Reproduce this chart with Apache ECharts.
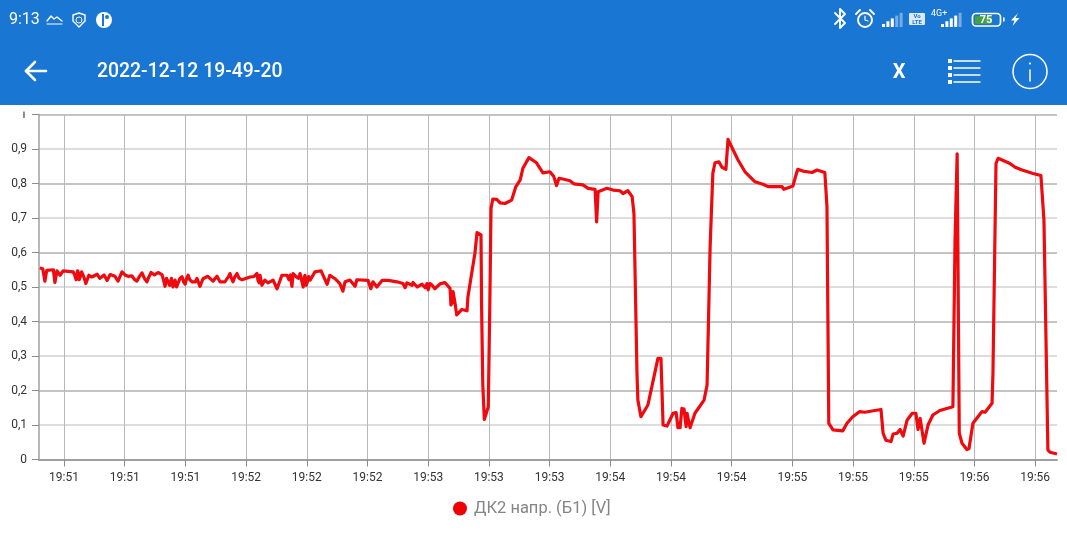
<!DOCTYPE html>
<html>
<head>
<meta charset="utf-8">
<title>2022-12-12 19-49-20</title>
<script src="https://cdn.jsdelivr.net/npm/echarts@6/dist/echarts.min.js"></script>
<style>
    html, body { margin: 0; padding: 0; background: #fff; }
    #chart { width: 1067px; height: 540px; }
</style>
</head>
<body>
<div id="chart"></div>
<script>
var title = '2022-12-12 19-49-20';
var seriesName = 'ДК2 напр. (Б1) [V]';

// seconds after 19:50:00
var seconds = [
    52, 53, 53.7, 54.3, 56.5, 57, 57.7, 58.7, 59.7, 63,
    64, 64.5, 65, 65.8, 67.2, 68.2, 69.2, 70.9, 73.2, 74.2,
    75.2, 76.8, 77.8, 79.1, 81.1, 82.4, 84, 85.7, 87.3, 88.7,
    91, 92.3, 93.3, 94.3, 95.9, 96.6, 97.6, 98.9, 99.9, 100.9,
    102.2, 103.8, 104.8, 105.8, 107.4, 109.1, 110.4, 111.4, 113, 114.7,
    115.7, 117, 118.7, 121.3, 123.6, 124.3, 124.6, 125.2, 126.2, 127.2,
    128.9, 130.2, 131.8, 133.5, 134.1, 135.1, 135.5, 137.8, 138.8, 139.4,
    140.1, 141.1, 142.7, 144.7, 145.3, 146.7, 147.6, 149.3, 150.9, 151.9,
    152.6, 154.2, 155.9, 156.5, 160.2, 161.1, 161.8, 163.1, 164.8, 166.8,
    169.7, 171.7, 172.4, 173, 174.7, 175, 177.3, 179, 179.6, 180,
    181.3, 182.2, 183.9, 185.5, 187.2, 187.5, 188.2, 188.6, 189.4, 189.8,
    191.1, 192.8, 193.1, 195.4, 196.1, 197.4, 197.6, 198, 198.5, 199,
    199.8, 200.3, 200.7, 201.3, 202.6, 203.7, 205.3, 207.5, 208.9, 210.3,
    211.2, 213.2, 215.7, 217.8, 220.1, 221.4, 222.3, 223.1, 224.4, 226.7,
    228, 231, 232.7, 235, 235.5, 236, 238.9, 240.9, 243.2, 244.2,
    245.8, 247.2, 247.8, 248.8, 249.1, 250.1, 252.4, 255.7, 256.7, 257.4,
    258.7, 260.7, 261.7, 262.3, 263, 263.6, 264.3, 265, 265.3, 266.3,
    267.9, 270.9, 271.9, 272.9, 273.8, 274.5, 275.8, 276.8, 278.1, 278.8,
    279.4, 282.1, 284.4, 287.7, 290.3, 292, 296.6, 297.2, 300.2, 301.2,
    301.8, 303.5, 306.5, 308.1, 310.7, 311.4, 312, 313.4, 316.6, 318,
    319.9, 322.2, 323.9, 327.2, 329.2, 329.9, 330.8, 332.5, 333.2, 334.5,
    335.5, 336.5, 337.8, 339.5, 340.7, 341.4, 342.1, 343.4, 344.7, 346.3,
    348.6, 352.9, 353.6, 354.3, 355, 355.9, 357.5, 358.2, 359.5, 362.5,
    363.5, 365.8, 366.1, 367.1, 367.8, 371.7, 373.4, 375.7, 379.3, 381.9,
    382.9, 384.2, 384.9, 387.2
];

var volts = [
    .555, .553, .517, .548, .55, .513, .547, .534, .547, .544,
    .521, .547, .521, .544, .51, .534, .529, .537, .535, .519,
    .536, .531, .517, .544, .531, .532, .517, .541, .515, .542,
    .542, .536, .502, .53, .5, .52, .495, .53, .508, .534,
    .515, .525, .502, .524, .531, .517, .531, .515, .515, .539,
    .515, .539, .521, .529, .539, .512, .534, .505, .52, .512,
    .52, .495, .534, .534, .521, .502, .539, .539, .5, .534,
    .512, .52, .544, .547, .544, .508, .534, .524, .51, .488,
    .515, .52, .502, .521, .519, .495, .515, .5, .519, .519,
    .515, .51, .498, .512, .505, .513, .505, .498, .51, .492,
    .505, .495, .509, .513, .496, .448, .487, .487, .419, .416,
    .435, .431, .472, .598, .658, .651, .443, .216, .116, .119,
    .153, .443, .728, .755, .754, .744, .742, .752, .791, .81,
    .844, .875, .86, .831, .834, .82, .794, .815, .813, .808,
    .799, .796, .786, .783, .689, .776, .786, .781, .779, .771,
    .779, .762, .713, .25, .172, .124, .158, .293, .293, .1,
    .097, .134, .136, .092, .092, .148, .146, .095, .134, .092,
    .134, .172, .216, .617, .83, .86, .863, .847, .841, .928,
    .928, .868, .834, .805, .798, .791, .791, .783, .793, .825,
    .841, .836, .832, .839, .832, .733, .105, .086, .083, .105,
    .124, .139, .137, .142, .145, .076, .056, .052, .074, .076,
    .087, .068, .114, .134, .134, .087, .119, .047, .1, .129,
    .142, .153, .636, .886, .076, .047, .029, .032, .105, .139,
    .137, .163, .25, .858, .873, .858, .847, .839, .829, .823,
    .694, .028, .021, .016
];

// the jitter in the idle stretch before 19:53
var jitterSeconds = [
    63.5, 64.8, 65.4, 66.5, 67.7, 71.8, 72.5, 80.1, 83.2, 84.8,
    86.5, 88, 89.8, 90.4, 92.8, 93.8, 94.8, 95.4, 97.1, 98.2,
    99.4, 100.4, 101.5, 102.8, 103.3, 114.2, 115.2, 116.3, 117.7, 122.5,
    123.9, 134.6, 136.5, 137.2, 138.3, 139.1, 139.8, 140.6, 175.5, 176.4,
    178, 180.6, 187.9, 188.9
];

var jitterVolts = [
    .535, .54, .53, .53, .515, .525, .53, .535, .522, .53,
    .525, .53, .535, .53, .52, .525, .505, .525, .5, .525,
    .515, .525, .52, .52, .515, .53, .525, .53, .525, .53,
    .52, .535, .53, .525, .535, .525, .505, .53, .51, .5,
    .508, .51, .455, .45
];

var tickSeconds = [60, 80, 100, 120, 140, 160, 180, 200, 220, 240, 260, 280, 300, 320, 340, 360, 380];
var timeMin = 51.76;
var timeMax = 387.2;

var chart = echarts.init(document.getElementById('chart'));

var points = seconds.map(function(s, i) {
    return [s, volts[i]];
}).concat(jitterSeconds.map(function(s, i) {
    return [s, jitterVolts[i]];
})).sort(function(a, b) {
    return a[0] - b[0];
});

var white = '#ffffff';

function bars(x, bottom, count, dim) {
    var out = [];
    for (var i = 0; i < count; i++) {
        var h = 3 + i * 2.8;
        out.push({
            type: 'rect',
            z: 101,
            shape: { x: x + i * 4.4, y: bottom - h, width: 3, height: h },
            style: { fill: white, opacity: i >= count - dim ? 0.4 : 1 }
        });
    }
    return out;
}

function text(x, y, str, font, extra) {
    var style = { x: x, y: y, text: str, font: font, fill: white, textVerticalAlign: 'middle' };
    for (var k in extra) {
        style[k] = extra[k];
    }
    return { type: 'text', z: 101, style: style };
}

function line(x1, y1, x2, y2, w) {
    return {
        type: 'line',
        z: 101,
        shape: { x1: x1, y1: y1, x2: x2, y2: y2 },
        style: { stroke: white, lineWidth: w, lineCap: 'round' }
    };
}

function poly(pts, w) {
    return {
        type: 'polyline',
        z: 101,
        shape: { points: pts },
        style: { stroke: white, lineWidth: w, fill: null, lineCap: 'round', lineJoin: 'round' }
    };
}

var listIcon = [];
[61, 68, 75, 82].forEach(function(y) {
    listIcon.push({ type: 'rect', z: 101, shape: { x: 948, y: y - 2, width: 4, height: 4 }, style: { fill: white } });
    listIcon.push(line(954, y, 980, y, 1.3));
});

var graphic = [
    { type: 'rect', z: 100, shape: { x: 0, y: 0, width: 1067, height: 105 }, style: { fill: '#1976d2' } },
    // the top of the "1" tick label is cut off in the screenshot
    { type: 'rect', z: 100, shape: { x: 0, y: 105, width: 30, height: 6.5 }, style: { fill: white } },

    text(9, 20, '9:13', '16px Roboto'),
    poly([[47, 21], [51, 16], [54, 19], [57, 17], [62, 21]], 1.4),
    line(47, 24, 62, 24, 1),
    poly([[79, 13], [85, 15], [85, 21], [79, 27], [73, 21], [73, 15], [79, 13]], 1.4),
    { type: 'circle', z: 101, shape: { cx: 79, cy: 20, r: 3 }, style: { stroke: white, lineWidth: 1, fill: null } },
    { type: 'circle', z: 101, shape: { cx: 104, cy: 20, r: 8 }, style: { fill: white } },
    { type: 'rect', z: 101, shape: { x: 102, y: 14, width: 2, height: 12 }, style: { fill: '#1976d2' } },
    { type: 'circle', z: 101, shape: { cx: 107, cy: 17, r: 2 }, style: { fill: '#1976d2' } },

    poly([[835, 13], [845, 23], [840, 28], [840, 9], [845, 14], [835, 24]], 1.9),
    { type: 'circle', z: 101, shape: { cx: 865, cy: 20, r: 7 }, style: { stroke: white, lineWidth: 1.9, fill: null } },
    poly([[865, 16], [865, 20], [868, 21]], 1.2),
    line(856, 14, 860, 10, 1.9),
    line(870, 10, 874, 14, 1.9),
    { type: 'rect', z: 101, shape: { x: 909, y: 13, width: 16, height: 12, r: 1 }, style: { fill: white, opacity: 0.85 } },
    text(917, 16.5, 'Vo', 'bold 6px Roboto', { fill: '#1976d2', textAlign: 'center' }),
    text(917, 22, 'LTE', 'bold 6px Roboto', { fill: '#1976d2', textAlign: 'center' }),
    text(931, 14, '4G+', '9px Roboto'),
    { type: 'rect', z: 101, shape: { x: 972.5, y: 13.5, width: 28, height: 12.5, r: 3.5 }, style: { stroke: white, lineWidth: 1.7, fill: null } },
    { type: 'rect', z: 101, shape: { x: 975, y: 16, width: 17, height: 8, r: 1 }, style: { fill: '#43a047' } },
    text(986, 20, '75', 'bold 11px Roboto', { textAlign: 'center' }),
    { type: 'rect', z: 101, shape: { x: 1003, y: 17.5, width: 1.6, height: 4 }, style: { fill: white } },
    { type: 'polygon', z: 101, shape: { points: [[1018, 13], [1011, 20.5], [1014.5, 20.5], [1012.5, 26], [1019.5, 18], [1015.5, 18]] }, style: { fill: white } },

    poly([[46, 71], [26, 71]], 2.6),
    poly([[35, 62], [26, 71], [35, 80]], 2.6),
    text(97, 72, title, '500 19.4px Roboto'),
    text(899, 72.5, 'X', 'bold 20px Roboto', { textAlign: 'center' }),
    { type: 'circle', z: 101, shape: { cx: 1030, cy: 71.5, r: 17 }, style: { stroke: white, lineWidth: 1.5, fill: null } },
    line(1030, 70, 1030, 81, 1.5),
    { type: 'circle', z: 101, shape: { cx: 1030, cy: 63.5, r: 1.1 }, style: { fill: white } }
].concat(bars(882, 27, 5, 2), bars(941, 27, 5, 1), listIcon);

var option = {
    animation: false,
    backgroundColor: '#ffffff',
    textStyle: { fontFamily: 'Roboto' },
    grid: { left: 39, right: 10, top: 114.5, bottom: 80.5 },
    legend: {
        left: 448,
        top: 495,
        icon: 'circle',
        itemWidth: 14,
        itemHeight: 14,
        itemGap: 0,
        selectedMode: false,
        data: [seriesName],
        textStyle: { fontFamily: 'Roboto', fontSize: 16.5, color: '#858585', padding: [0, 0, 0, 2] }
    },
    xAxis: {
        type: 'value',
        min: timeMin,
        max: timeMax,
        axisLine: { show: true, lineStyle: { color: '#a0a0a0', width: 2 } },
        axisTick: { show: true, length: 7, customValues: tickSeconds, lineStyle: { color: '#8c8c8c', width: 1 } },
        splitLine: { show: true, lineStyle: { color: '#b8b8b8', width: 1 } },
        axisLabel: {
            customValues: tickSeconds,
            margin: 12,
            fontSize: 12,
            color: '#333',
            formatter: function(v) {
                return '19:' + (50 + Math.floor(v / 60));
            }
        }
    },
    yAxis: {
        type: 'value',
        min: 0,
        max: 1,
        interval: 0.1,
        axisLine: { show: true, onZero: false, lineStyle: { color: '#a0a0a0', width: 1.5 } },
        axisTick: { show: true, length: 7, lineStyle: { color: '#8c8c8c', width: 1 } },
        splitLine: { show: true, lineStyle: { color: ['#b0b0b0', '#d2d2d2'], width: 1.5 } },
        axisLabel: {
            margin: 12,
            fontSize: 12,
            color: '#333',
            formatter: function(v) {
                return String(Math.round(v * 10) / 10).replace('.', ',');
            }
        }
    },
    series: [{
        name: seriesName,
        type: 'line',
        data: points,
        symbol: 'none',
        color: '#f00000',
        lineStyle: { color: '#ee0a0f', width: 3.2, join: 'round' },
        clip: true
    }],
    graphic: graphic
};

chart.setOption(option);
</script>
</body>
</html>
